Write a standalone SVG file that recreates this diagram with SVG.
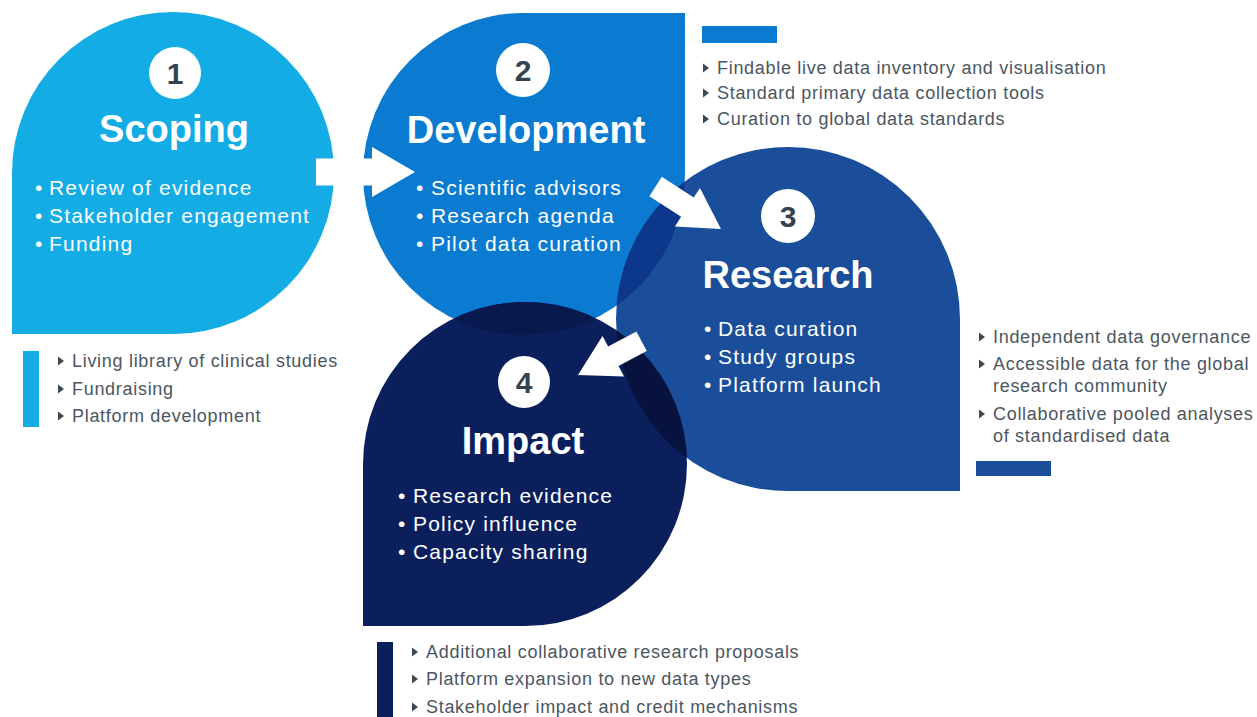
<svg xmlns="http://www.w3.org/2000/svg" width="1257" height="717" viewBox="0 0 1257 717">
  <style>
    .title { font-family: "Liberation Sans", Arial, sans-serif; font-weight: bold; font-size: 38px; fill: #ffffff; text-anchor: middle; }
    .num { font-family: "Liberation Sans", Arial, sans-serif; font-weight: bold; font-size: 30px; fill: #34434f; text-anchor: middle; }
    .badge { fill: #ffffff; }
    .item { font-family: "Liberation Sans", Arial, sans-serif; font-size: 21px; letter-spacing: 1.2px; fill: #ffffff; }
    .note { font-family: "Liberation Sans", Arial, sans-serif; font-size: 18px; letter-spacing: 0.7px; fill: #4b5661; }
    .tri { fill: #3d4852; }
    .arrow { fill: #ffffff; }
    .c1 { fill: #13ace5; }
    .c2 { fill: #0a7bd1; }
    .c3 { fill: #1a4e9a; }
    .c4 { fill: #0b1f5d; }
  </style>
  <defs>
    <path id="shape1" d="M 12,173 A 161 161 0 1 1 173,334 L 12,334 Z"/>
    <path id="shape2" d="M 524,13 L 685,13 L 685,174 A 161 161 0 1 1 524,13 Z"/>
    <path id="shape3" d="M 960,319 L 960,491 L 788,491 A 172 172 0 1 1 960,319 Z"/>
    <path id="shape4" d="M 363,464 A 162 162 0 1 1 525,626 L 363,626 Z"/>
    <clipPath id="clip2"><use href="#shape2"/></clipPath>
    <clipPath id="clip3"><use href="#shape3"/></clipPath>
    <polygon id="tri" points="0,-4.5 6,0 0,4.5"/>
  </defs>

  <rect width="1257" height="717" fill="#ffffff"/>

  <!-- stage shapes -->
  <g id="shapes">
    <use href="#shape1" class="c1"/>
    <use href="#shape2" class="c2"/>
    <use href="#shape3" class="c3"/>
    <use href="#shape4" class="c4"/>
    <!-- overlapping lenses -->
    <use href="#shape3" fill="#0c378a" clip-path="url(#clip2)"/>
    <use href="#shape4" fill="#08194e" clip-path="url(#clip2)"/>
    <use href="#shape4" fill="#07123f" clip-path="url(#clip3)"/>
  </g>

  <g id="connectors">
    <!-- arrow shape: tip at origin, pointing along +x -->
    <polygon class="arrow" transform="translate(415,172)" points="-99,-13.5 -43,-13.5 -43,-25 0,0 -43,25 -43,13.5 -99,13.5"/>
    <polygon class="arrow" transform="translate(721,229) rotate(33)" points="-78,-11.5 -40,-11.5 -40,-23 0,0 -40,23 -40,11.5 -78,11.5"/>
    <polygon class="arrow" transform="translate(578,375) rotate(152)" points="-72,-11 -40,-11 -40,-23 0,0 -40,23 -40,11 -72,11"/>
  </g>

  <g id="scoping">
    <circle class="badge" cx="175" cy="73" r="26"/>
    <text class="num" x="175" y="84">1</text>
    <text class="title" x="174" y="142">Scoping</text>
    <text class="item"><tspan x="35" y="195">•</tspan><tspan x="49" y="195">Review of evidence</tspan></text>
    <text class="item"><tspan x="35" y="223">•</tspan><tspan x="49" y="223">Stakeholder engagement</tspan></text>
    <text class="item"><tspan x="35" y="251">•</tspan><tspan x="49" y="251">Funding</tspan></text>
  </g>

  <g id="development">
    <circle class="badge" cx="523" cy="70" r="27"/>
    <text class="num" x="523" y="81">2</text>
    <text class="title" x="526" y="143">Development</text>
    <text class="item"><tspan x="416" y="195">•</tspan><tspan x="431" y="195">Scientific advisors</tspan></text>
    <text class="item"><tspan x="416" y="223">•</tspan><tspan x="431" y="223">Research agenda</tspan></text>
    <text class="item"><tspan x="416" y="251">•</tspan><tspan x="431" y="251">Pilot data curation</tspan></text>
  </g>

  <g id="research">
    <circle class="badge" cx="788" cy="216" r="27"/>
    <text class="num" x="788" y="227">3</text>
    <text class="title" x="788" y="288">Research</text>
    <text class="item"><tspan x="704" y="336">•</tspan><tspan x="718" y="336">Data curation</tspan></text>
    <text class="item"><tspan x="704" y="364">•</tspan><tspan x="718" y="364">Study groups</tspan></text>
    <text class="item"><tspan x="704" y="392">•</tspan><tspan x="718" y="392">Platform launch</tspan></text>
  </g>

  <g id="impact">
    <circle class="badge" cx="524" cy="382" r="26"/>
    <text class="num" x="524" y="393">4</text>
    <text class="title" x="523" y="454">Impact</text>
    <text class="item"><tspan x="398" y="503">•</tspan><tspan x="413" y="503">Research evidence</tspan></text>
    <text class="item"><tspan x="398" y="531">•</tspan><tspan x="413" y="531">Policy influence</tspan></text>
    <text class="item"><tspan x="398" y="559">•</tspan><tspan x="413" y="559">Capacity sharing</tspan></text>
  </g>

  <!-- outcome notes beside each stage -->
  <g id="scoping-notes">
    <rect x="23" y="351" width="16" height="76" fill="#13ace5"/>
    <use href="#tri" class="tri" x="58" y="361"/>
    <use href="#tri" class="tri" x="58" y="389"/>
    <use href="#tri" class="tri" x="58" y="416"/>
    <text class="note" x="72" y="367">Living library of clinical studies</text>
    <text class="note" x="72" y="395">Fundraising</text>
    <text class="note" x="72" y="422">Platform development</text>
  </g>

  <g id="development-notes">
    <rect x="702" y="26" width="75" height="17" fill="#0a7bd1"/>
    <use href="#tri" class="tri" x="703" y="68"/>
    <use href="#tri" class="tri" x="703" y="93"/>
    <use href="#tri" class="tri" x="703" y="119"/>
    <text class="note" x="717" y="74">Findable live data inventory and visualisation</text>
    <text class="note" x="717" y="99">Standard primary data collection tools</text>
    <text class="note" x="717" y="125">Curation to global data standards</text>
  </g>

  <g id="research-notes">
    <use href="#tri" class="tri" x="979" y="337"/>
    <use href="#tri" class="tri" x="979" y="364"/>
    <use href="#tri" class="tri" x="979" y="414"/>
    <text class="note" x="993" y="343">Independent data governance</text>
    <text class="note" x="993" y="370">Accessible data for the global</text>
    <text class="note" x="993" y="392">research community</text>
    <text class="note" x="993" y="420">Collaborative pooled analyses</text>
    <text class="note" x="993" y="442">of standardised data</text>
    <rect x="976" y="461" width="75" height="15" fill="#1a4e9a"/>
  </g>

  <g id="impact-notes">
    <rect x="377" y="642" width="16" height="75" fill="#0b1f5d"/>
    <use href="#tri" class="tri" x="412" y="652"/>
    <use href="#tri" class="tri" x="412" y="679"/>
    <use href="#tri" class="tri" x="412" y="707"/>
    <text class="note" x="426" y="658">Additional collaborative research proposals</text>
    <text class="note" x="426" y="685">Platform expansion to new data types</text>
    <text class="note" x="426" y="713">Stakeholder impact and credit mechanisms</text>
  </g>
</svg>
